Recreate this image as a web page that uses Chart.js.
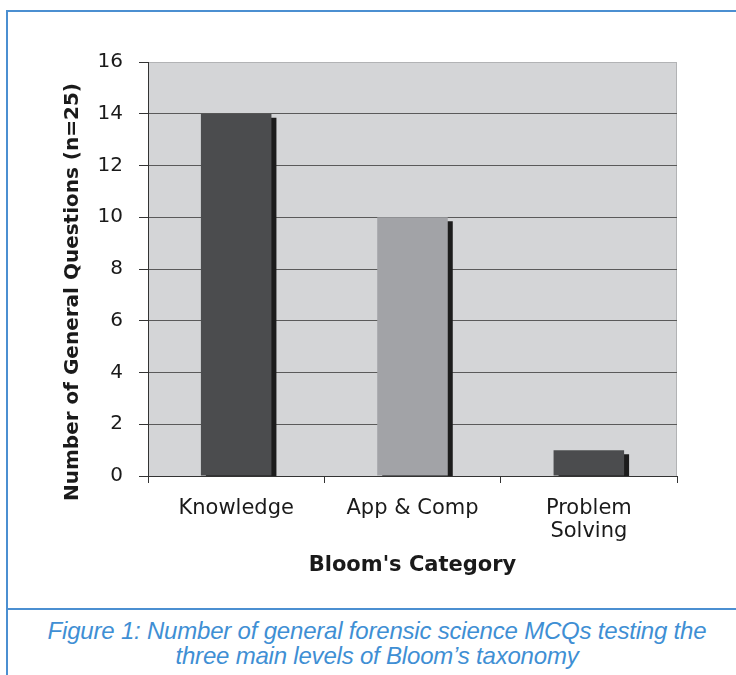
<!DOCTYPE html>
<html>
<head>
<meta charset="utf-8">
<script src="https://cdn.jsdelivr.net/npm/chart.js@4.4.1/dist/chart.umd.min.js"></script>
<style>
  html, body { margin: 0; padding: 0; background: #ffffff; width: 736px; height: 675px; overflow: hidden; }
  #frame { position: absolute; left: 6px; top: 10px; width: 800px; height: 700px;
           border-left: 2px solid #4b8fd1; border-top: 2px solid #4b8fd1; }
  #sep { position: absolute; left: 6px; top: 608px; width: 740px; height: 2px; background: #4b8fd1; }
  #wrap { position: absolute; left: 0; top: 0; width: 736px; height: 600px; }
  #caption { position: absolute; left: 6px; width: 742px; top: 618px; text-align: center;
             font-family: "Liberation Sans", Arial, sans-serif; font-style: italic; font-size: 24px;
             line-height: 25px; color: #3f8fd4; letter-spacing: -0.2px; }
</style>
</head>
<body>
<div id="frame"></div>
<div id="sep"></div>
<div id="wrap"><canvas id="c" width="736" height="600"></canvas></div>
<div id="caption">Figure 1: Number of general forensic science MCQs testing the<br>three main levels of Bloom’s taxonomy</div>
<script>
const categories = ['Knowledge', 'App & Comp', ['Problem', 'Solving']];
const questionCounts = [14, 10, 1];
const yTickMax = 16;
const yTickStep = 2;
const xAxisTitle = "Bloom's Category";
const yAxisTitle = 'Number of General Questions (n=25)';

const barColors = ['#4b4c4e', '#a2a3a7', '#4b4c4e'];

const plotBg = {
  id: 'plotBg',
  beforeDraw(chart) {
    const {ctx, chartArea: a} = chart;
    ctx.save();
    ctx.fillStyle = '#d4d5d7';
    ctx.fillRect(a.left, a.top, a.right - a.left, a.bottom - a.top);
    ctx.strokeStyle = '#b2b3b5';
    ctx.lineWidth = 1;
    ctx.beginPath();
    ctx.moveTo(a.left, a.top + 0.5);
    ctx.lineTo(a.right - 0.5, a.top + 0.5);
    ctx.lineTo(a.right - 0.5, a.bottom);
    ctx.stroke();
    ctx.restore();
  }
};

const barShadow = {
  id: 'barShadow',
  beforeDatasetsDraw(chart) {
    const {ctx, chartArea: a} = chart;
    ctx.save();
    ctx.beginPath();
    ctx.rect(a.left, a.top, a.right - a.left, a.bottom - a.top);
    ctx.clip();
    ctx.shadowColor = '#1c1c1c';
    ctx.shadowOffsetX = 5;
    ctx.shadowOffsetY = 4;
    ctx.shadowBlur = 0;
  },
  afterDatasetsDraw(chart) {
    chart.ctx.restore();
  }
};

const yTitle = {
  id: 'yTitle',
  afterDraw(chart) {
    const {ctx} = chart;
    ctx.save();
    ctx.translate(73, 292);
    ctx.rotate(-Math.PI / 2);
    ctx.font = 'bold 20px "DejaVu Sans"';
    ctx.fillStyle = '#1a1a1a';
    ctx.textAlign = 'center';
    ctx.textBaseline = 'middle';
    ctx.fillText(yAxisTitle, 0, 0);
    ctx.restore();
  }
};

new Chart(document.getElementById('c'), {
  type: 'bar',
  data: {
    labels: categories,
    datasets: [{
      data: questionCounts,
      backgroundColor: barColors,
      borderWidth: 0,
      barPercentage: 0.4,
      categoryPercentage: 1.0
    }]
  },
  options: {
    responsive: false,
    animation: false,
    events: [],
    layout: { padding: { left: 0, right: 59, top: 62, bottom: 0 } },
    plugins: { legend: { display: false }, tooltip: { enabled: false } },
    scales: {
      x: {
        offset: true,
        grid: { display: true, drawOnChartArea: false, offset: true, tickLength: 7, tickColor: '#333333', color: '#333333' },
        border: { display: true, color: '#333333', width: 1 },
        ticks: { color: '#1a1a1a', font: { family: '"DejaVu Sans"', size: 21, lineHeight: 1.1 }, padding: 14, maxRotation: 0 },
        title: { display: true, text: xAxisTitle, color: '#1a1a1a',
                 font: { family: '"DejaVu Sans"', size: 21, weight: 'bold' }, padding: { top: 0, bottom: 22 } },
        afterFit(scale) { scale.height = 124; }
      },
      y: {
        min: 0, max: yTickMax,
        grid: { color: (c) => c.tick && c.tick.value === yTickMax ? '#b2b3b5' : '#5a5a5a',
                tickColor: '#333333', tickLength: 9, lineWidth: 1 },
        border: { display: true, color: '#333333', width: 1 },
        ticks: { stepSize: yTickStep, color: '#1a1a1a', font: { family: '"DejaVu Sans"', size: 20 }, padding: 16 },
        title: { display: false },
        afterFit(scale) { scale.width = 148; }
      }
    }
  },
  plugins: [plotBg, barShadow, yTitle]
});
</script>
</body>
</html>
